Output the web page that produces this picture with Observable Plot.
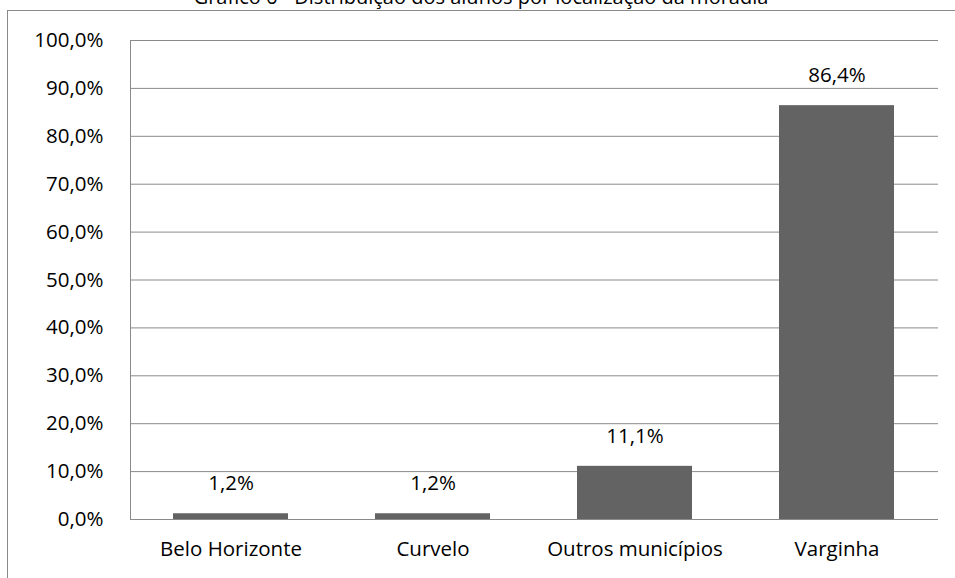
<!DOCTYPE html>
<html>
<head>
<meta charset="utf-8">
<script src="https://cdn.jsdelivr.net/npm/d3@7"></script>
<script src="https://cdn.jsdelivr.net/npm/@observablehq/plot@0.6"></script>
<style>
  html, body { margin: 0; padding: 0; background: #fff; overflow: hidden; }
  #wrap { position: relative; width: 955px; height: 578px; overflow: hidden; }
  #title { position: absolute; left: 0; width: 962px; top: -13px; text-align: center;
           font-family: "Open Sans", sans-serif; font-size: 20px; line-height: 20px; color: #000; white-space: nowrap; }
  #frame { position: absolute; left: 7px; top: 10px; width: 960px; height: 580px;
           border-left: 1px solid #8a8a8a; border-top: 1px solid #8a8a8a; }
  #chart { position: absolute; left: 0; top: 0; }
</style>
</head>
<body>
<div id="wrap">
  <div id="frame"></div>
  <div id="title">Gráfico 6 - Distribuição dos alunos por localização da moradia</div>
  <div id="chart"></div>
</div>
<script>
const categories = ["Belo Horizonte", "Curvelo", "Outros municípios", "Varginha"];
const values = [0.012, 0.012, 0.111, 0.864];
const yTicks = [0, 0.1, 0.2, 0.3, 0.4, 0.5, 0.6, 0.7, 0.8, 0.9, 1.0];

const data = categories.map((c, i) => ({cat: c, val: values[i]}));
const ptBR = d3.formatLocale({decimal: ",", thousands: ".", grouping: [3], currency: ["R$", ""]});
const fmt = ptBR.format(".1%");

const leftAxisLine = (index, scales, values, dims) => {
  const l = d3.create("svg:line")
    .attr("x1", dims.marginLeft + 0.5).attr("x2", dims.marginLeft + 0.5)
    .attr("y1", dims.marginTop).attr("y2", dims.height - dims.marginBottom + 0.5)
    .attr("stroke", "#8a8a8a").attr("stroke-width", 1);
  return l.node();
};

const chart = Plot.plot({
  width: 955,
  height: 578,
  marginLeft: 130,
  marginRight: 17,
  marginTop: 40,
  marginBottom: 59,
  style: {fontFamily: "Open Sans, sans-serif", fontSize: "20.5px", color: "#000", background: "transparent"},
  x: {domain: categories, paddingInner: 0.43, paddingOuter: 0.215, label: null, tickSize: 0, tickPadding: 22},
  y: {domain: [0, 1], ticks: yTicks, tickFormat: fmt, label: null, tickSize: 0, tickPadding: 27},
  marks: [
    Plot.ruleY(yTicks, {stroke: "#8a8a8a", strokeWidth: 1}),
    leftAxisLine,
    Plot.barY(data, {x: "cat", y: "val", fill: "#636363"}),
    Plot.text(data, {x: "cat", y: "val", text: d => fmt(d.val), dy: -30, fontSize: 20.5, fill: "#000"})
  ]
});
document.getElementById("chart").appendChild(chart);
</script>
</body>
</html>
